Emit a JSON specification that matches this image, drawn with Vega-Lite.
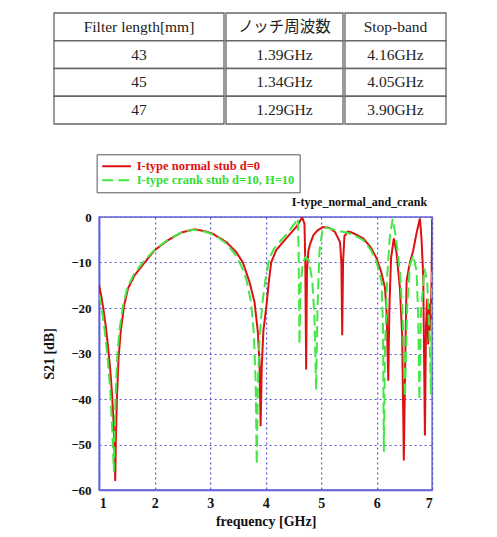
{
  "$schema": "https://vega.github.io/schema/vega-lite/v6.json",
  "padding": {"left": 41, "top": 12, "right": 5, "bottom": 5},
  "config": {
    "font": "Liberation Serif",
    "background": "white"
  },
  "datasets": {
    "table": [
      {"r": 0, "col": "c1", "text": "Filter length[mm]"},
      {"r": 0, "col": "c2", "text": "ノッチ周波数"},
      {"r": 0, "col": "c3", "text": "Stop-band"},
      {"r": 1, "col": "c1", "text": "43"},
      {"r": 1, "col": "c2", "text": "1.39GHz"},
      {"r": 1, "col": "c3", "text": "4.16GHz"},
      {"r": 2, "col": "c1", "text": "45"},
      {"r": 2, "col": "c2", "text": "1.34GHz"},
      {"r": 2, "col": "c3", "text": "4.05GHz"},
      {"r": 3, "col": "c1", "text": "47"},
      {"r": 3, "col": "c2", "text": "1.29GHz"},
      {"r": 3, "col": "c3", "text": "3.90GHz"}
    ],
    "normal": [
      {"f": 1.00, "db": -15}, {"f": 1.04, "db": -17.5}, {"f": 1.08, "db": -20.5}, {"f": 1.12, "db": -24},
      {"f": 1.16, "db": -28.5}, {"f": 1.20, "db": -33.5}, {"f": 1.23, "db": -38.5}, {"f": 1.26, "db": -45},
      {"f": 1.28, "db": -52}, {"f": 1.29, "db": -58}, {"f": 1.30, "db": -50}, {"f": 1.32, "db": -40},
      {"f": 1.35, "db": -31}, {"f": 1.39, "db": -25}, {"f": 1.45, "db": -19.5}, {"f": 1.52, "db": -15.7},
      {"f": 1.64, "db": -12.8}, {"f": 1.82, "db": -10}, {"f": 2.0, "db": -7.3}, {"f": 2.24, "db": -5.1},
      {"f": 2.48, "db": -3.4}, {"f": 2.72, "db": -2.7}, {"f": 2.9, "db": -3.1}, {"f": 3.05, "db": -3.7},
      {"f": 3.29, "db": -5.5}, {"f": 3.47, "db": -7.7}, {"f": 3.59, "db": -10}, {"f": 3.71, "db": -14.3},
      {"f": 3.80, "db": -18.7}, {"f": 3.86, "db": -25.3}, {"f": 3.89, "db": -32}, {"f": 3.91, "db": -46},
      {"f": 3.93, "db": -33}, {"f": 3.96, "db": -25}, {"f": 4.01, "db": -20}, {"f": 4.06, "db": -14},
      {"f": 4.10, "db": -10}, {"f": 4.19, "db": -7.3}, {"f": 4.37, "db": -4.7}, {"f": 4.55, "db": -2.2},
      {"f": 4.66, "db": -0.1}, {"f": 4.70, "db": -1.5}, {"f": 4.715, "db": -10}, {"f": 4.73, "db": -33.5},
      {"f": 4.745, "db": -12}, {"f": 4.77, "db": -7.5}, {"f": 4.80, "db": -6}, {"f": 4.86, "db": -4},
      {"f": 4.93, "db": -3}, {"f": 5.03, "db": -2.2}, {"f": 5.15, "db": -2.4}, {"f": 5.25, "db": -3.3},
      {"f": 5.34, "db": -5.5}, {"f": 5.365, "db": -10}, {"f": 5.38, "db": -26}, {"f": 5.395, "db": -10},
      {"f": 5.42, "db": -4.2}, {"f": 5.48, "db": -3.2}, {"f": 5.55, "db": -3.4}, {"f": 5.65, "db": -4},
      {"f": 5.76, "db": -4.7}, {"f": 5.9, "db": -6.8}, {"f": 6.0, "db": -9.1}, {"f": 6.08, "db": -12},
      {"f": 6.15, "db": -15.5}, {"f": 6.18, "db": -21}, {"f": 6.21, "db": -36}, {"f": 6.23, "db": -20},
      {"f": 6.26, "db": -9}, {"f": 6.31, "db": -4.7}, {"f": 6.36, "db": -8}, {"f": 6.42, "db": -15.7},
      {"f": 6.46, "db": -26}, {"f": 6.49, "db": -53.5}, {"f": 6.52, "db": -28}, {"f": 6.54, "db": -14},
      {"f": 6.60, "db": -10}, {"f": 6.66, "db": -7.3}, {"f": 6.72, "db": -3.5}, {"f": 6.78, "db": -0.3},
      {"f": 6.81, "db": -5}, {"f": 6.84, "db": -13}, {"f": 6.87, "db": -48}, {"f": 6.89, "db": -24},
      {"f": 6.91, "db": -18}, {"f": 6.93, "db": -28}, {"f": 6.95, "db": -19}, {"f": 6.97, "db": -25},
      {"f": 6.99, "db": -14}, {"f": 7.0, "db": -0.5}
    ],
    "crank": [
      {"f": 1.00, "db": -17}, {"f": 1.04, "db": -19.5}, {"f": 1.08, "db": -23}, {"f": 1.12, "db": -27},
      {"f": 1.16, "db": -32}, {"f": 1.20, "db": -38}, {"f": 1.23, "db": -45}, {"f": 1.25, "db": -51},
      {"f": 1.265, "db": -56}, {"f": 1.28, "db": -47}, {"f": 1.30, "db": -38}, {"f": 1.33, "db": -30},
      {"f": 1.37, "db": -24.5}, {"f": 1.43, "db": -19.5}, {"f": 1.51, "db": -15.5}, {"f": 1.63, "db": -12.5},
      {"f": 1.80, "db": -9.8}, {"f": 2.0, "db": -7.2}, {"f": 2.25, "db": -4.9}, {"f": 2.5, "db": -3.3},
      {"f": 2.7, "db": -2.8}, {"f": 2.9, "db": -3.2}, {"f": 3.1, "db": -4.1}, {"f": 3.3, "db": -5.9},
      {"f": 3.45, "db": -8.2}, {"f": 3.56, "db": -10.7}, {"f": 3.66, "db": -14}, {"f": 3.74, "db": -19},
      {"f": 3.79, "db": -26}, {"f": 3.82, "db": -36}, {"f": 3.84, "db": -54.4}, {"f": 3.86, "db": -37},
      {"f": 3.89, "db": -27}, {"f": 3.94, "db": -19}, {"f": 4.00, "db": -13.5}, {"f": 4.07, "db": -9},
      {"f": 4.15, "db": -7}, {"f": 4.25, "db": -5.5}, {"f": 4.40, "db": -3.5}, {"f": 4.52, "db": -1.5},
      {"f": 4.58, "db": -0.3}, {"f": 4.595, "db": -8}, {"f": 4.61, "db": -28}, {"f": 4.63, "db": -15},
      {"f": 4.67, "db": -10}, {"f": 4.72, "db": -8.8}, {"f": 4.78, "db": -9.5}, {"f": 4.84, "db": -14},
      {"f": 4.88, "db": -22}, {"f": 4.91, "db": -38}, {"f": 4.935, "db": -20}, {"f": 4.97, "db": -7.5},
      {"f": 5.03, "db": -2.3}, {"f": 5.15, "db": -2.5}, {"f": 5.3, "db": -3}, {"f": 5.45, "db": -3.4},
      {"f": 5.6, "db": -4}, {"f": 5.75, "db": -5}, {"f": 5.9, "db": -7.3}, {"f": 6.0, "db": -9.9},
      {"f": 6.09, "db": -14.3}, {"f": 6.115, "db": -24}, {"f": 6.13, "db": -51.6}, {"f": 6.15, "db": -30},
      {"f": 6.19, "db": -13}, {"f": 6.24, "db": -4}, {"f": 6.29, "db": -0.4}, {"f": 6.34, "db": -4},
      {"f": 6.42, "db": -12}, {"f": 6.47, "db": -22}, {"f": 6.51, "db": -39.6}, {"f": 6.55, "db": -20},
      {"f": 6.60, "db": -10.6}, {"f": 6.66, "db": -8.4}, {"f": 6.72, "db": -12}, {"f": 6.75, "db": -22},
      {"f": 6.77, "db": -40.3}, {"f": 6.80, "db": -21}, {"f": 6.86, "db": -11.3}, {"f": 6.91, "db": -14},
      {"f": 6.95, "db": -25}, {"f": 6.98, "db": -39}, {"f": 7.0, "db": -12}
    ]
  },
  "vconcat": [
    {
      "hconcat": [
        {
          "width": 170, "height": 111, "view": {"stroke": null},
          "data": {"name": "table"},
          "transform": [{"filter": "datum.col === 'c1'"}],
          "encoding": {"y": {"field": "r", "type": "ordinal", "axis": null, "scale": {"paddingInner": 0, "paddingOuter": 0}}},
          "layer": [
            {"mark": {"type": "rect", "fill": "white", "stroke": "#666666", "strokeWidth": 1.3}},
            {"mark": {"type": "text", "fontSize": 15.5, "color": "#222222", "font": "Liberation Serif"}, "encoding": {"text": {"field": "text"}}}
          ]
        },
        {
          "width": 117, "height": 111, "view": {"stroke": null},
          "data": {"name": "table"},
          "transform": [{"filter": "datum.col === 'c2'"}],
          "encoding": {"y": {"field": "r", "type": "ordinal", "axis": null, "scale": {"paddingInner": 0, "paddingOuter": 0}}},
          "layer": [
            {"mark": {"type": "rect", "fill": "white", "stroke": "#666666", "strokeWidth": 1.3}},
            {"mark": {"type": "text", "fontSize": 15.5, "color": "#222222", "font": "Liberation Serif, Noto Sans CJK JP"}, "encoding": {"text": {"field": "text"}}}
          ]
        },
        {
          "width": 101, "height": 111, "view": {"stroke": null},
          "data": {"name": "table"},
          "transform": [{"filter": "datum.col === 'c3'"}],
          "encoding": {"y": {"field": "r", "type": "ordinal", "axis": null, "scale": {"paddingInner": 0, "paddingOuter": 0}}},
          "layer": [
            {"mark": {"type": "rect", "fill": "white", "stroke": "#666666", "strokeWidth": 1.3}},
            {"mark": {"type": "text", "fontSize": 15.5, "color": "#222222", "font": "Liberation Serif"}, "encoding": {"text": {"field": "text"}}}
          ]
        },
        {
          "width": 31, "height": 111, "view": {"stroke": null},
          "data": {"values": [{"gap": 0}]},
          "mark": {"type": "rect", "opacity": 0}
        }
      ],
      "spacing": 0,
      "resolve": {"scale": {"y": "independent"}}
    },
    {
      "width": 333, "height": 273,
      "view": {"stroke": "#6262d8", "strokeWidth": 1.5},
      "title": {"text": "I-type_normal_and_crank", "anchor": "end", "font": "Liberation Serif", "fontSize": 12, "fontWeight": "bold", "color": "#111111", "offset": 9, "dx": -5, "dy": 64},
      "layer": [
        {
          "data": {"name": "normal"},
          "transform": [{"calculate": "'I-type normal stub d=0'", "as": "series"}],
          "mark": {"type": "line", "strokeWidth": 2, "clip": true},
          "encoding": {
            "x": {"field": "f", "type": "quantitative"},
            "y": {"field": "db", "type": "quantitative"},
            "color": {"field": "series", "type": "nominal"},
            "strokeDash": {"field": "series", "type": "nominal"}
          }
        },
        {
          "data": {"name": "crank"},
          "transform": [{"calculate": "'I-type crank stub d=10, H=10'", "as": "series"}],
          "mark": {"type": "line", "strokeWidth": 2, "clip": true},
          "encoding": {
            "x": {"field": "f", "type": "quantitative"},
            "y": {"field": "db", "type": "quantitative"},
            "color": {"field": "series", "type": "nominal"},
            "strokeDash": {"field": "series", "type": "nominal"}
          }
        }
      ],
      "encoding": {
        "x": {
          "field": "f", "type": "quantitative",
          "scale": {"domain": [1, 7], "nice": false},
          "axis": {
            "values": [1, 2, 3, 4, 5, 6, 7], "title": "frequency [GHz]",
            "titleFont": "Liberation Serif", "titleFontSize": 14, "titleFontWeight": "bold", "titleColor": "#111111", "titlePadding": 4,
            "labelFont": "Liberation Serif", "labelFontSize": 14, "labelFontWeight": "bold", "labelColor": "#111111", "labelPadding": 6,
            "ticks": false, "domainColor": "#6262d8", "domainWidth": 1.5,
            "gridColor": "#5a5acc", "gridDash": [2, 3], "gridWidth": 1.2, "gridOpacity": 1
          }
        },
        "y": {
          "field": "db", "type": "quantitative",
          "scale": {"domain": [-60, 0], "nice": false},
          "axis": {
            "values": [-60, -50, -40, -30, -20, -10, 0], "title": "S21 [dB]",
            "titleFont": "Liberation Serif", "titleFontSize": 14, "titleFontWeight": "bold", "titleColor": "#111111", "titlePadding": 14,
            "labelFont": "Liberation Serif", "labelFontSize": 13, "labelFontWeight": "bold", "labelColor": "#111111", "labelPadding": 8,
            "ticks": false, "domainColor": "#6262d8", "domainWidth": 1.5,
            "gridColor": "#5a5acc", "gridDash": [2, 3], "gridWidth": 1.2, "gridOpacity": 1
          }
        },
        "color": {
          "field": "series", "type": "nominal",
          "scale": {"domain": ["I-type normal stub d=0", "I-type crank stub d=10, H=10"], "range": ["#dd1111", "#44e844"]},
          "legend": {
            "orient": "none", "legendX": -2.5, "legendY": -62.7, "title": null,
            "strokeColor": "#555555", "fillColor": "white", "padding": 5,
            "symbolType": "M-2.4,0H2.4", "symbolSize": 144, "symbolStrokeWidth": 2, "symbolOffset": 8,
            "labelFont": "Liberation Serif", "labelFontSize": 12.5, "labelFontWeight": "bold", "labelOffset": 13,
            "rowPadding": -2,
            "encode": {"labels": {"update": {"fill": {"signal": "datum.value === 'I-type normal stub d=0' ? '#dd1111' : '#33dd33'"}}}}
          }
        },
        "strokeDash": {
          "field": "series", "type": "nominal",
          "scale": {"domain": ["I-type normal stub d=0", "I-type crank stub d=10, H=10"], "range": [[1, 0], [11, 5]]},
          "legend": {
            "orient": "none", "legendX": -2.5, "legendY": -62.7, "title": null,
            "strokeColor": "#555555", "fillColor": "white", "padding": 5,
            "symbolType": "M-2.4,0H2.4", "symbolSize": 144, "symbolStrokeWidth": 2, "symbolOffset": 8,
            "labelFont": "Liberation Serif", "labelFontSize": 12.5, "labelFontWeight": "bold", "labelOffset": 13,
            "rowPadding": -2,
            "encode": {"labels": {"update": {"fill": {"signal": "datum.value === 'I-type normal stub d=0' ? '#dd1111' : '#33dd33'"}}}}
          }
        }
      }
    }
  ],
  "resolve": {"legend": {"color": "independent", "strokeDash": "independent"}},
  "spacing": 28,
  "center": true
}
